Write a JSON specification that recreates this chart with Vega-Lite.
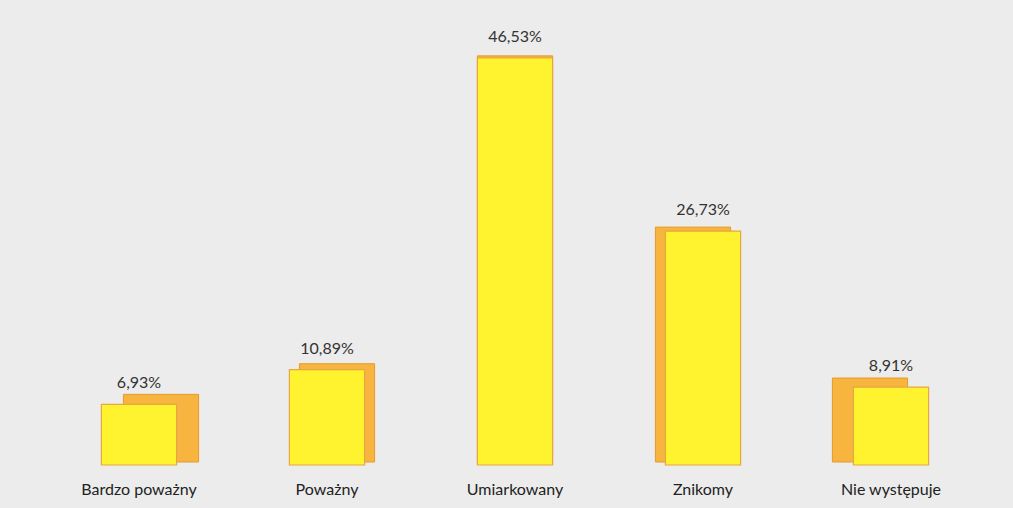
{
  "$schema": "https://vega.github.io/schema/vega-lite/v6.json",
  "width": 940,
  "height": 455,
  "autosize": "none",
  "padding": {"left": 45, "top": 10, "right": 28, "bottom": 43},
  "background": "#ececec",
  "config": {
    "view": {"stroke": null},
    "locale": {"number": {"decimal": ",", "thousands": " ", "grouping": [3], "currency": ["", " zł"]}}
  },
  "data": {
    "values": [
      {"kategoria": "Bardzo poważny", "udzial": 0.0693},
      {"kategoria": "Poważny", "udzial": 0.1089},
      {"kategoria": "Umiarkowany", "udzial": 0.4653},
      {"kategoria": "Znikomy", "udzial": 0.2673},
      {"kategoria": "Nie występuje", "udzial": 0.0891}
    ]
  },
  "encoding": {
    "x": {
      "field": "kategoria",
      "type": "nominal",
      "sort": null,
      "scale": {"paddingInner": 0.6, "paddingOuter": 0.3},
      "axis": {
        "title": null,
        "labelAngle": 0,
        "domain": false,
        "ticks": false,
        "labelFont": "Lato",
        "labelFontSize": 16,
        "labelColor": "#222222",
        "labelPadding": 16
      }
    },
    "y": {
      "field": "udzial",
      "type": "quantitative",
      "scale": {"domain": [0, 0.52]},
      "axis": null
    }
  },
  "layer": [
    {
      "mark": {
        "type": "bar",
        "color": "#f7b53f",
        "stroke": "#e59a2e",
        "strokeWidth": 1,
        "xOffset": {"expr": "datum.kategoria == 'Bardzo poważny' ? 22 : datum.kategoria == 'Poważny' ? 10 : datum.kategoria == 'Umiarkowany' ? 0 : datum.kategoria == 'Znikomy' ? -10 : -21"},
        "yOffset": {"expr": "datum.kategoria == 'Bardzo poważny' ? -10 : datum.kategoria == 'Poważny' ? -6 : datum.kategoria == 'Umiarkowany' ? -2 : datum.kategoria == 'Znikomy' ? -4 : -9"},
        "y2Offset": -3
      },
      "encoding": {
        "y2": {"datum": 0}
      }
    },
    {
      "mark": {"type": "bar", "color": "#fff22e", "stroke": "#e8a640", "strokeWidth": 1.2}
    },
    {
      "mark": {
        "type": "text",
        "dy": -21,
        "font": "Lato",
        "fontSize": 16,
        "color": "#333333"
      },
      "encoding": {
        "text": {"field": "udzial", "type": "quantitative", "format": ".2%"}
      }
    }
  ]
}
